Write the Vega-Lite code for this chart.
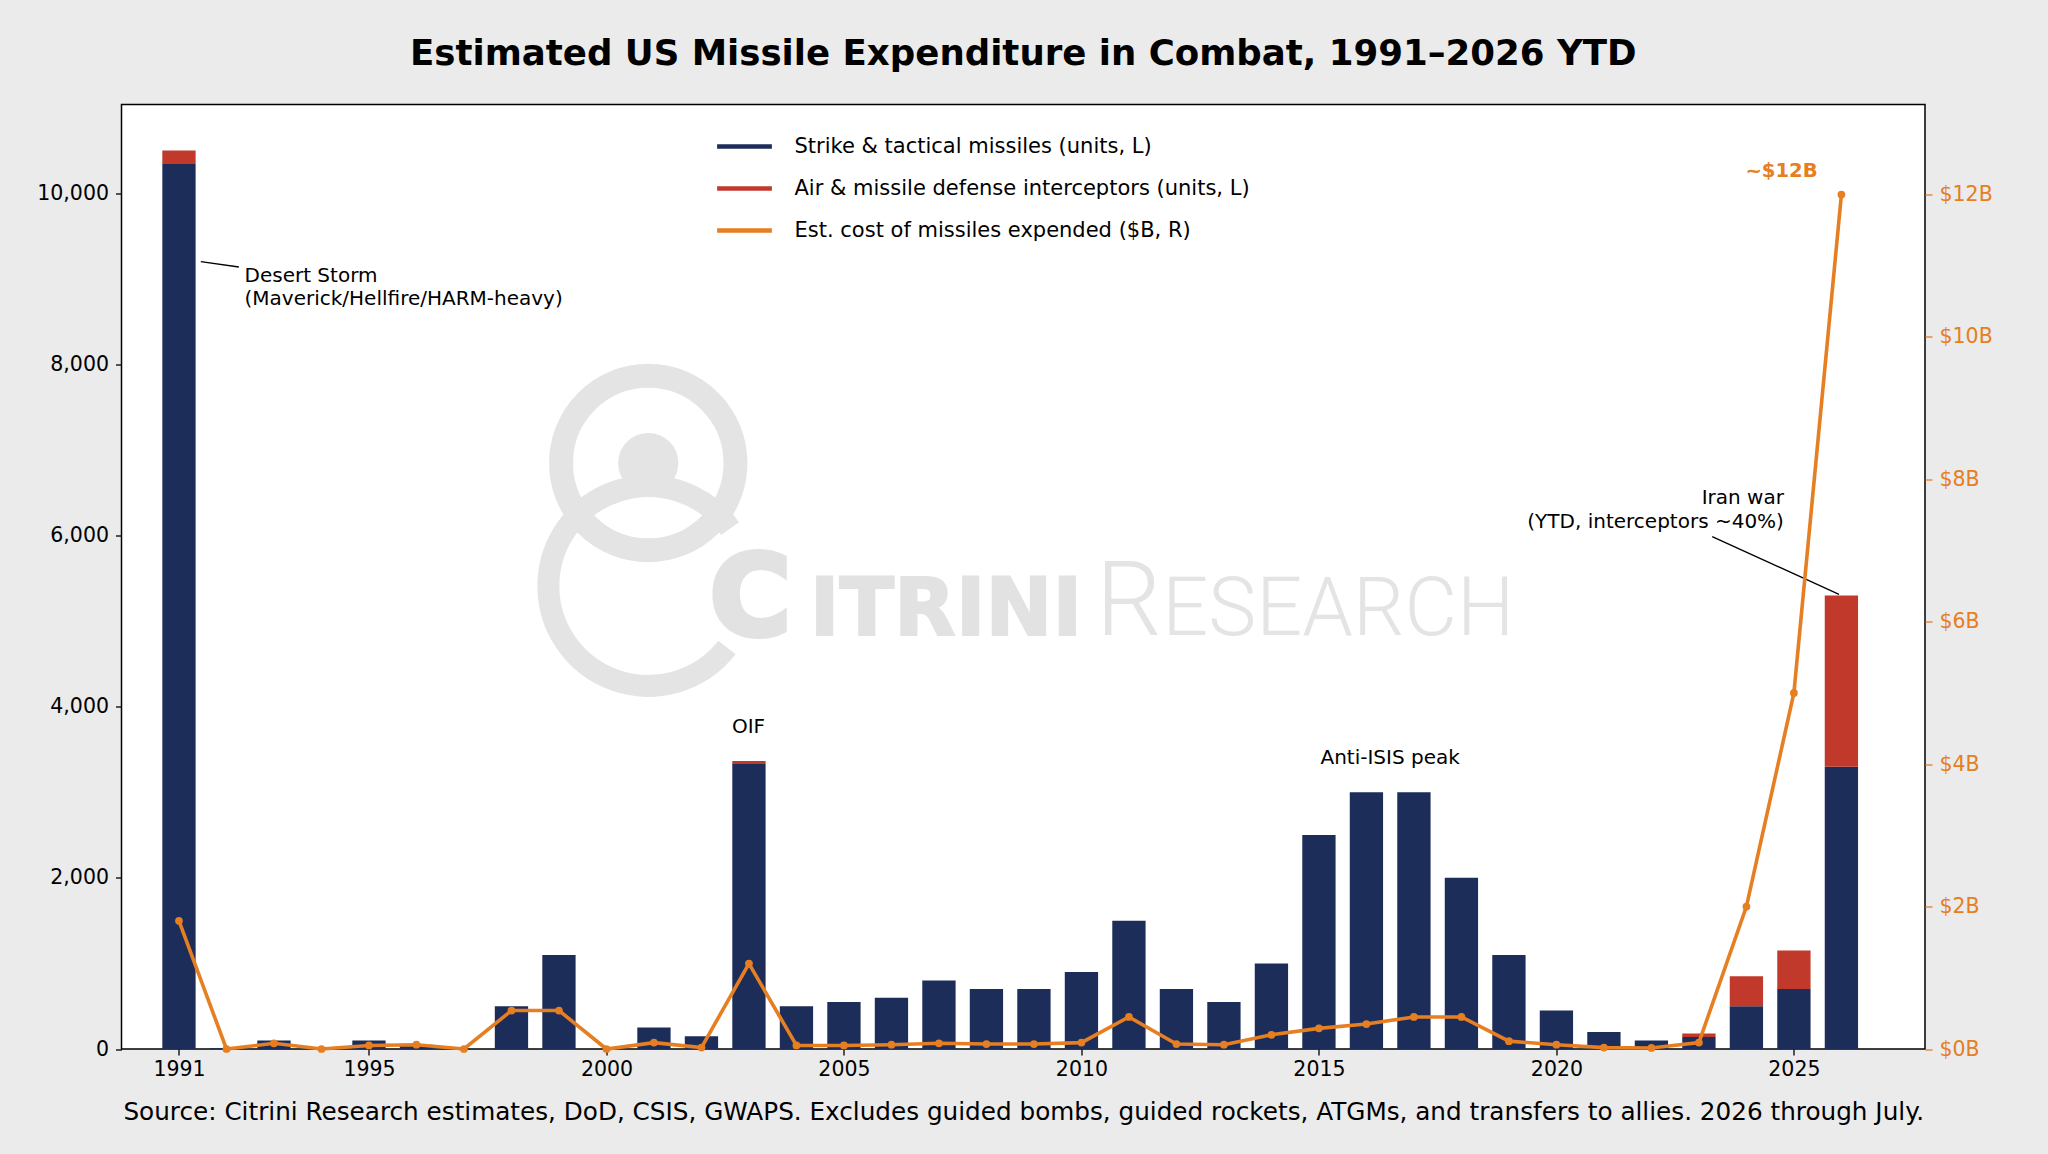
{
  "$schema": "https://vega.github.io/schema/vega-lite/v6.json",
  "width": 1803.5,
  "height": 944.5,
  "autosize": {"type": "none"},
  "padding": {"left": 121.5, "top": 104.5, "right": 123, "bottom": 105},
  "background": "#ebebeb",
  "title": {
    "text": "Estimated US Missile Expenditure in Combat, 1991–2026 YTD",
    "fontSize": 35.6,
    "fontWeight": "bold",
    "color": "black",
    "anchor": "middle",
    "frame": "group",
    "baseline": "alphabetic",
    "offset": 4
  },
  "config": {
    "font": "DejaVu Sans",
    "view": {"fill": "white", "stroke": "black", "strokeWidth": 1.5}
  },
  "datasets": {
    "missiles": [
      {"year": 1991, "strike": 10350, "interceptors": 150, "cost": 1.8},
      {"year": 1992, "strike": 10, "interceptors": 0, "cost": 0.0},
      {"year": 1993, "strike": 100, "interceptors": 0, "cost": 0.08},
      {"year": 1994, "strike": 0, "interceptors": 0, "cost": 0.0},
      {"year": 1995, "strike": 100, "interceptors": 0, "cost": 0.05},
      {"year": 1996, "strike": 50, "interceptors": 0, "cost": 0.06},
      {"year": 1997, "strike": 0, "interceptors": 0, "cost": 0.0},
      {"year": 1998, "strike": 500, "interceptors": 0, "cost": 0.54},
      {"year": 1999, "strike": 1100, "interceptors": 0, "cost": 0.54},
      {"year": 2000, "strike": 0, "interceptors": 0, "cost": 0.0},
      {"year": 2001, "strike": 250, "interceptors": 0, "cost": 0.09},
      {"year": 2002, "strike": 150, "interceptors": 0, "cost": 0.02},
      {"year": 2003, "strike": 3340, "interceptors": 25, "cost": 1.2},
      {"year": 2004, "strike": 500, "interceptors": 0, "cost": 0.05},
      {"year": 2005, "strike": 550, "interceptors": 0, "cost": 0.05},
      {"year": 2006, "strike": 600, "interceptors": 0, "cost": 0.06},
      {"year": 2007, "strike": 800, "interceptors": 0, "cost": 0.08},
      {"year": 2008, "strike": 700, "interceptors": 0, "cost": 0.07},
      {"year": 2009, "strike": 700, "interceptors": 0, "cost": 0.07},
      {"year": 2010, "strike": 900, "interceptors": 0, "cost": 0.09},
      {"year": 2011, "strike": 1500, "interceptors": 0, "cost": 0.45},
      {"year": 2012, "strike": 700, "interceptors": 0, "cost": 0.07},
      {"year": 2013, "strike": 550, "interceptors": 0, "cost": 0.06},
      {"year": 2014, "strike": 1000, "interceptors": 0, "cost": 0.2},
      {"year": 2015, "strike": 2500, "interceptors": 0, "cost": 0.29},
      {"year": 2016, "strike": 3000, "interceptors": 0, "cost": 0.35},
      {"year": 2017, "strike": 3000, "interceptors": 0, "cost": 0.45},
      {"year": 2018, "strike": 2000, "interceptors": 0, "cost": 0.45},
      {"year": 2019, "strike": 1100, "interceptors": 0, "cost": 0.11},
      {"year": 2020, "strike": 450, "interceptors": 0, "cost": 0.06},
      {"year": 2021, "strike": 200, "interceptors": 0, "cost": 0.02},
      {"year": 2022, "strike": 100, "interceptors": 0, "cost": 0.015},
      {"year": 2023, "strike": 140, "interceptors": 40, "cost": 0.09},
      {"year": 2024, "strike": 500, "interceptors": 350, "cost": 2.0},
      {"year": 2025, "strike": 700, "interceptors": 450, "cost": 5.0},
      {"year": 2026, "strike": 3300, "interceptors": 2000, "cost": 12.0}
    ]
  },
  "data": {"name": "missiles"},
  "layer": [
    {
      "layer": [
        {
          "data": {"values": [{}]},
          "mark": {"type": "point", "shape": "circle", "filled": false, "color": "#e4e4e4", "strokeWidth": 24, "size": 30418, "opacity": 1},
          "encoding": {"x": {"datum": 2000.88}, "y": {"datum": 6848}}
        },
        {
          "data": {"values": [{}]},
          "mark": {"type": "point", "shape": "circle", "filled": true, "color": "#e4e4e4", "size": 3632, "opacity": 1},
          "encoding": {"x": {"datum": 2000.88}, "y": {"datum": 6848}}
        },
        {
          "data": {"values": [{}]},
          "mark": {"type": "point", "shape": "M0.819,-0.574A1,1,0,1,0,0.788,0.616", "filled": false, "color": "#e4e4e4", "strokeWidth": 22, "size": 39920, "opacity": 1},
          "encoding": {"x": {"datum": 2000.88}, "y": {"datum": 5411}}
        },
        {
          "data": {"values": [{}]},
          "mark": {"type": "text", "text": "C", "font": "DejaVu Sans", "fontWeight": "bold", "fontSize": 110, "color": "#e2e2e2", "stroke": "#e2e2e2", "strokeWidth": 6, "align": "left", "baseline": "alphabetic"},
          "encoding": {"x": {"datum": 2002.18}, "y": {"datum": 4850}}
        },
        {
          "data": {"values": [{}]},
          "mark": {"type": "text", "text": "ITRINI", "font": "DejaVu Sans", "fontWeight": "bold", "fontSize": 80, "color": "#e2e2e2", "stroke": "#e2e2e2", "strokeWidth": 2, "align": "left", "baseline": "alphabetic"},
          "encoding": {"x": {"datum": 2004.28}, "y": {"datum": 4844}}
        },
        {
          "data": {"values": [{}]},
          "mark": {"type": "text", "text": "R", "font": "Roboto", "fontWeight": 300, "fontSize": 104, "color": "#e4e4e4", "align": "left", "baseline": "alphabetic"},
          "encoding": {"x": {"datum": 2010.3}, "y": {"datum": 4844}}
        },
        {
          "data": {"values": [{}]},
          "mark": {"type": "text", "text": "ESEARCH", "font": "Roboto", "fontWeight": 300, "fontSize": 81, "color": "#e4e4e4", "align": "left", "baseline": "alphabetic"},
          "encoding": {"x": {"datum": 2011.7}, "y": {"datum": 4844}}
        },
        {
          "transform": [{"fold": ["strike", "interceptors"], "as": ["series", "units"]}],
          "mark": {"type": "bar", "orient": "vertical", "width": 33.3},
          "encoding": {
            "x": {
              "field": "year",
              "type": "quantitative",
              "scale": {"domain": [1989.79, 2027.76], "nice": false, "zero": false, "padding": 0},
              "axis": {
                "values": [1991, 1995, 2000, 2005, 2010, 2015, 2020, 2025],
                "format": "d",
                "grid": false,
                "domain": false,
                "tickSize": 6,
                "tickColor": "black",
                "tickWidth": 1.3,
                "labelFontSize": 20.5,
                "labelColor": "black",
                "labelPadding": 4,
                "title": "Source: Citrini Research estimates, DoD, CSIS, GWAPS. Excludes guided bombs, guided rockets, ATGMs, and transfers to allies. 2026 through July.",
                "titleFontSize": 24.7,
                "titleFontWeight": "normal",
                "titleColor": "black",
                "titlePadding": 20
              }
            },
            "y": {
              "field": "units",
              "type": "quantitative",
              "stack": "zero",
              "scale": {"domain": [0, 11038], "nice": false},
              "axis": {
                "title": null,
                "values": [0, 2000, 4000, 6000, 8000, 10000],
                "format": ",d",
                "grid": false,
                "domain": false,
                "tickSize": 6,
                "tickColor": "black",
                "tickWidth": 1.3,
                "labelFontSize": 20.5,
                "labelColor": "black",
                "labelPadding": 7
              }
            },
            "color": {
              "field": "series",
              "type": "nominal",
              "scale": {"domain": ["strike", "interceptors", "cost"], "range": ["#1c2d59", "#c0392b", "#e67e22"]},
              "legend": {
                "orient": "none",
                "legendX": 593,
                "legendY": 12,
                "title": null,
                "padding": 0,
                "symbolType": "stroke",
                "symbolSize": 3000,
                "symbolStrokeWidth": 4.5,
                "labelFontSize": 21,
                "labelColor": "black",
                "labelOffset": 20,
                "labelLimit": 0,
                "rowPadding": 2,
                "labelExpr": "datum.label == 'strike' ? 'Strike & tactical missiles (units, L)' : datum.label == 'interceptors' ? 'Air & missile defense interceptors (units, L)' : 'Est. cost of missiles expended ($B, R)'",
                "encode": {"symbols": {"update": {"stroke": {"scale": "color", "field": "value"}}}}
              }
            },
            "order": {"field": "series", "sort": "descending"}
          }
        },
        {
          "data": {"values": [{}]},
          "mark": {"type": "rule", "color": "black", "strokeWidth": 1.3},
          "encoding": {"x": {"datum": 1991.46}, "y": {"datum": 9201}, "x2": {"datum": 1992.26}, "y2": {"datum": 9139}}
        },
        {
          "data": {"values": [{}]},
          "mark": {"type": "text", "text": ["Desert Storm", "(Maverick/Hellfire/HARM-heavy)"], "fontSize": 20, "lineHeight": 23.5, "color": "black", "align": "left", "baseline": "alphabetic"},
          "encoding": {"x": {"datum": 1992.38}, "y": {"datum": 8967}}
        },
        {
          "data": {"values": [{}]},
          "mark": {"type": "text", "text": "OIF", "fontSize": 20, "color": "black", "align": "center", "baseline": "alphabetic"},
          "encoding": {"x": {"datum": 2002.99}, "y": {"datum": 3689}}
        },
        {
          "data": {"values": [{}]},
          "mark": {"type": "text", "text": "Anti-ISIS peak", "fontSize": 20, "color": "black", "align": "center", "baseline": "alphabetic"},
          "encoding": {"x": {"datum": 2016.5}, "y": {"datum": 3327}}
        },
        {
          "data": {"values": [{}]},
          "mark": {"type": "rule", "color": "black", "strokeWidth": 1.3},
          "encoding": {"x": {"datum": 2023.28}, "y": {"datum": 5987}, "x2": {"datum": 2025.95}, "y2": {"datum": 5314}}
        },
        {
          "data": {"values": [{}]},
          "mark": {"type": "text", "text": ["Iran war", "(YTD, interceptors ~40%)"], "fontSize": 20, "lineHeight": 23.5, "color": "black", "align": "right", "baseline": "alphabetic"},
          "encoding": {"x": {"datum": 2024.79}, "y": {"datum": 6369}}
        }
      ]
    },
    {
      "layer": [
        {
          "mark": {"type": "line", "strokeWidth": 3.6},
          "encoding": {
            "x": {"field": "year", "type": "quantitative", "scale": {"domain": [1989.79, 2027.76], "nice": false, "zero": false, "padding": 0}},
            "y": {
              "field": "cost",
              "type": "quantitative",
              "scale": {"domain": [0, 13.265], "nice": false},
              "axis": {
                "orient": "right",
                "title": null,
                "values": [0, 2, 4, 6, 8, 10, 12],
                "labelExpr": "'$' + datum.value + 'B'",
                "grid": false,
                "domain": false,
                "tickSize": 7,
                "tickColor": "#e67e22",
                "tickWidth": 1.3,
                "labelFontSize": 20.5,
                "labelColor": "#e67e22",
                "labelPadding": 7
              }
            },
            "color": {"datum": "cost"}
          }
        },
        {
          "mark": {"type": "point", "filled": true, "size": 60, "opacity": 1},
          "encoding": {
            "x": {"field": "year", "type": "quantitative", "scale": {"domain": [1989.79, 2027.76], "nice": false, "zero": false, "padding": 0}},
            "y": {"field": "cost", "type": "quantitative"},
            "color": {"datum": "cost"}
          }
        },
        {
          "data": {"values": [{}]},
          "mark": {"type": "text", "text": "~$12B", "fontSize": 19.6, "fontWeight": "bold", "color": "#e67e22", "align": "center", "baseline": "alphabetic"},
          "encoding": {"x": {"datum": 2024.74}, "y": {"datum": 12.24}}
        }
      ]
    }
  ],
  "resolve": {"scale": {"y": "independent"}}
}
